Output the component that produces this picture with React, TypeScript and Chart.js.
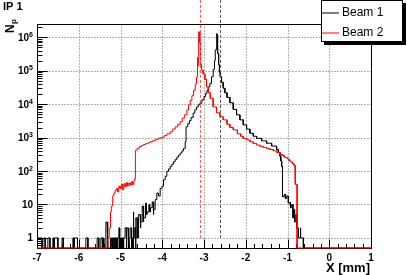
import { useEffect, useRef } from 'react';
import { Chart, registerables } from 'chart.js';

Chart.register(...registerables);

const X_MIN = -7;
const X_MAX = 1;
const Y_MIN = 0.5;
const Y_MAX = 2.5e6;

const xTickValues = [-7, -6, -5, -4, -3, -2, -1, 0, 1];
const xTickLabels = ['-7', '-6', '-5', '-4', '-3', '-2', '-1', '0', '1'];
const yTickValues = [1, 10, 100, 1000, 1e4, 1e5, 1e6];
// label base and exponent ('' = no exponent)
const yTickBases = ['1', '10', '10', '10', '10', '10', '10'];
const yTickExps = ['', '', '2', '3', '4', '5', '6'];

const seriesNames = ['Beam 1', 'Beam 2'];
const beamMeans = [-2.61, -3.09];

// Beam 1: bin left edges and counts (last edge closes the histogram)
const beam1Edges = [
  -7.0, -6.88, -6.83, -6.8, -6.74, -6.69, -6.62, -6.6, -6.58, -6.55, -6.5, -6.4, -6.37, -6.14, -6.12, -6.1, -6.07, -6.03, -6.0,
  -5.83, -5.78, -5.56, -5.52, -5.47, -5.44, -5.42, -5.4, -5.35, -5.32, -5.3,
  -5.25, -5.23, -5.22, -5.2, -5.19, -5.16, -5.15, -5.13, -5.12, -5.1, -5.09, -5.07, -5.06, -5.04, -5.02, -5.01, -4.99,
  -4.98, -4.96, -4.95, -4.93, -4.92, -4.89, -4.86, -4.85, -4.82, -4.8, -4.79, -4.77, -4.74, -4.73, -4.71, -4.7, -4.68,
  -4.67, -4.64, -4.63, -4.6, -4.58, -4.56, -4.53, -4.51, -4.48, -4.46, -4.44, -4.4, -4.38, -4.36, -4.32, -4.3, -4.28,
  -4.24, -4.22, -4.2, -4.17, -4.13, -4.09, -4.05, -4.01, -3.97, -3.93, -3.89, -3.85, -3.81, -3.77, -3.73, -3.69, -3.65,
  -3.61, -3.57, -3.53, -3.49, -3.45, -3.43, -3.39, -3.35, -3.31, -3.26, -3.22, -3.18, -3.14, -3.1, -3.05, -3.0, -2.96,
  -2.93, -2.89, -2.86, -2.82, -2.78, -2.75, -2.73, -2.71, -2.69, -2.68, -2.67, -2.65, -2.63, -2.61, -2.58, -2.54, -2.5,
  -2.45, -2.38, -2.3, -2.22, -2.14, -2.06, -1.98, -1.9, -1.82, -1.74, -1.62, -1.5, -1.38, -1.26, -1.22, -1.18, -1.16,
  -1.14, -1.12, -1.08, -1.05, -1.02, -0.98, -0.94, -0.92, -0.9, -0.87, -0.85, -0.83, -0.8, -0.78, -0.74, -0.7, -0.68,
  -0.62, 1.0,
];
const beam1Values = [
  1, 0, 1, 0, 1, 0, 1, 0, 1, 1, 0, 1, 0, 1, 0, 1, 1, 0, 0,
  1, 0, 1, 0, 1, 0, 1, 0, 3, 1, 0,
  1, 0, 1, 0, 1, 0, 1, 0, 1, 0, 1, 0, 1, 2, 0, 1, 0,
  1, 0, 1, 0, 1, 2, 0, 2, 1, 0, 1, 2, 0, 1, 0, 6, 1,
  2, 0, 4, 1, 2, 5, 2, 3, 9, 3, 4, 11, 5, 6, 10, 6, 8,
  12, 5, 7, 14, 22, 18, 30, 35, 55, 70, 97, 115, 138, 160, 190, 220, 260,
  300, 345, 400, 480, 760, 2100, 2600, 3200, 4000, 5400, 6800, 8200, 9500, 10700, 13500, 17000, 21000,
  26000, 33000, 42000, 66000, 110000, 200000, 420000, 1300000, 1200000, 800000, 330000, 150000, 90000, 66000, 45000, 30000, 22000,
  16000, 11000, 7000, 4800, 3400, 2400, 1800, 1350, 1100, 950, 800, 680, 560, 440, 360, 275, 200,
  138, 17, 20, 15, 18, 11, 12, 8, 10, 4, 7, 3, 5, 2, 1, 2, 1,
  0,
];

// Beam 2: bin left edges and counts
const beam2Edges = [
  -7.0, -5.3, -5.27, -5.24, -5.22, -5.2, -5.18, -5.16, -5.13, -5.1, -5.07, -5.04, -5.01, -4.98, -4.95, -4.92, -4.89,
  -4.86, -4.83, -4.8, -4.77, -4.74, -4.71, -4.68, -4.66, -4.65, -4.64, -4.6, -4.55, -4.5, -4.45, -4.4, -4.35, -4.29,
  -4.22, -4.15, -4.08, -4.01, -3.95, -3.89, -3.81, -3.75, -3.69, -3.63, -3.57, -3.52, -3.47, -3.41, -3.37, -3.33,
  -3.29, -3.25, -3.21, -3.18, -3.16, -3.15, -3.14, -3.13, -3.12, -3.1, -3.09, -3.08, -3.06, -3.02, -2.98, -2.94,
  -2.9, -2.85, -2.78, -2.7, -2.62, -2.54, -2.45, -2.38, -2.3, -2.2, -2.12, -2.06, -1.98, -1.9, -1.82, -1.74, -1.66,
  -1.58, -1.5, -1.42, -1.34, -1.26, -1.18, -1.12, -1.08, -1.04, -1.0, -0.96, -0.92, -0.88, -0.85, -0.82, -0.81,
  -0.77, 1.0,
];
const beam2Values = [
  0, 1, 2, 6, 9, 14, 18, 22, 26, 30, 24, 35, 30, 40, 28, 42, 34,
  45, 36, 44, 38, 48, 40, 52, 60, 150, 420, 480, 540, 580, 620, 660, 700, 760,
  830, 900, 980, 1030, 1150, 1300, 1500, 1800, 2100, 2500, 3000, 3800, 4800, 6700, 9500, 13000,
  18000, 26000, 40000, 65000, 250000, 140000, 400000, 900000, 1450000, 700000, 250000, 150000, 105000, 80000, 55000, 33000,
  22000, 15000, 8300, 5500, 4200, 3400, 2500, 2000, 1700, 1300, 1100, 950, 850, 750, 670, 600, 550,
  510, 470, 440, 400, 360, 310, 290, 260, 250, 230, 200, 185, 170, 150, 138, 40,
  0,
];

const FONT = "'Liberation Sans', Arial, Helvetica, sans-serif";
const COLORS = ['#000000', '#ff0000'];
const MEAN_COLORS = ['#555555', '#ff5a5a'];

function outline(edges: number[], values: number[]) {
  const pts: { x: number; y: number }[] = [];
  for (let i = 0; i < values.length; i++) {
    const v = values[i] > 0 ? values[i] : Y_MIN;
    pts.push({ x: edges[i], y: v }, { x: edges[i + 1], y: v });
  }
  return pts;
}

const decorPlugin = {
  id: 'decor',
  beforeDatasetsDraw(chart: any) {
    const { ctx, chartArea: a, scales } = chart;
    const xs = scales.x;
    const ys = scales.y;
    const L = Math.round(a.left) + 0.5;
    const R = Math.round(a.right) + 0.5;
    const T = Math.round(a.top) + 0.5;
    const B = Math.round(a.bottom) + 0.5;
    ctx.save();
    ctx.lineWidth = 1;
    // grid
    ctx.strokeStyle = '#666';
    ctx.setLineDash([1, 2]);
    for (const v of xTickValues) {
      if (v === X_MIN || v === X_MAX) continue;
      const px = Math.round(xs.getPixelForValue(v)) + 0.5;
      ctx.beginPath(); ctx.moveTo(px, T); ctx.lineTo(px, B); ctx.stroke();
    }
    for (const v of yTickValues) {
      const py = Math.round(ys.getPixelForValue(v)) + 0.5;
      ctx.beginPath(); ctx.moveTo(L, py); ctx.lineTo(R, py); ctx.stroke();
    }
    ctx.setLineDash([]);
    // frame
    ctx.strokeStyle = '#000';
    ctx.strokeRect(L, T, R - L, B - T);
    // x ticks
    for (let i = 0; i <= 40; i++) {
      const v = X_MIN + i * 0.2;
      const px = Math.round(xs.getPixelForValue(v)) + 0.5;
      const len = i % 5 === 0 ? 9 : 4.5;
      ctx.beginPath(); ctx.moveTo(px, B); ctx.lineTo(px, B - len); ctx.stroke();
    }
    // y ticks
    for (let d = -1; d <= 6; d++) {
      for (let k = 1; k <= 9; k++) {
        const v = k * Math.pow(10, d);
        if (v < Y_MIN || v > Y_MAX) continue;
        const py = Math.round(ys.getPixelForValue(v)) + 0.5;
        const len = k === 1 ? 10 : 5;
        ctx.beginPath(); ctx.moveTo(L, py); ctx.lineTo(L + len, py); ctx.stroke();
      }
    }
    // y tick labels with superscript exponents
    ctx.fillStyle = '#000';
    ctx.textBaseline = 'alphabetic';
    ctx.textAlign = 'left';
    const rightEdge = a.left - 4;
    yTickValues.forEach((v, i) => {
      const py = ys.getPixelForValue(v);
      const base = yTickBases[i];
      const exp = yTickExps[i];
      ctx.font = `bold 10px ${FONT}`;
      const wb = ctx.measureText(base).width;
      ctx.font = `bold 7px ${FONT}`;
      const we = exp ? ctx.measureText(exp).width : 0;
      const x0 = rightEdge - wb - we;
      ctx.font = `bold 10px ${FONT}`;
      ctx.fillText(base, x0, py + 3.5);
      if (exp) {
        ctx.font = `bold 7px ${FONT}`;
        ctx.fillText(exp, x0 + wb, py - 0.5);
      }
    });
    ctx.restore();
  },
  afterDraw(chart: any) {
    const { ctx, scales } = chart;
    const xs = scales.x;
    const ys = scales.y;
    ctx.save();
    // mean lines
    ctx.lineWidth = 1;
    ctx.setLineDash([3, 2]);
    beamMeans.forEach((m, i) => {
      const px = Math.round(xs.getPixelForValue(m)) + 0.5;
      const yb = ys.getPixelForValue(1);
      ctx.strokeStyle = MEAN_COLORS[i];
      ctx.beginPath(); ctx.moveTo(px, yb); ctx.lineTo(px, 0); ctx.stroke();
    });
    ctx.setLineDash([]);

    // title
    ctx.fillStyle = '#000';
    ctx.font = `bold 11px ${FONT}`;
    ctx.textAlign = 'left';
    ctx.textBaseline = 'alphabetic';
    ctx.fillText('IP 1', 3, 10);

    // y title (rotated)
    ctx.save();
    ctx.translate(14, 33);
    ctx.rotate(-Math.PI / 2);
    ctx.font = `bold 12px ${FONT}`;
    ctx.fillText('N', 0, 0);
    ctx.font = `bold 8px ${FONT}`;
    ctx.fillText('p', 9, 2);
    ctx.restore();

    // x title
    ctx.font = `bold 13px ${FONT}`;
    ctx.textAlign = 'right';
    ctx.fillText('X [mm]', 370, 272);

    // legend
    const lx = 321, ly = 0, lw = 82, lh = 42;
    ctx.fillStyle = '#000';
    ctx.fillRect(lx + 3, ly + 3, lw, lh);
    ctx.fillStyle = '#fff';
    ctx.fillRect(lx, ly, lw, lh);
    ctx.strokeStyle = '#000';
    ctx.strokeRect(lx + 0.5, ly + 0.5, lw - 1, lh - 1);
    ctx.font = `12px ${FONT}`;
    ctx.textAlign = 'left';
    ctx.textBaseline = 'middle';
    seriesNames.forEach((name, i) => {
      const yy = 13 + i * 20;
      ctx.strokeStyle = COLORS[i];
      ctx.beginPath(); ctx.moveTo(322, yy); ctx.lineTo(339, yy); ctx.stroke();
      ctx.fillStyle = '#000';
      ctx.fillText(name, 342, yy);
    });
    ctx.restore();
  },
};

export default function App() {
  const ref = useRef<HTMLCanvasElement | null>(null);
  useEffect(() => {
    document.body.style.margin = '0';
    const canvas = ref.current;
    if (!canvas) return;
    const chart = new Chart(canvas, {
      type: 'line',
      data: {
        datasets: [
          {
            label: seriesNames[0],
            data: outline(beam1Edges, beam1Values),
            borderColor: COLORS[0],
            borderWidth: 1,
            pointRadius: 0,
            fill: false,
            order: 2,
            clip: 3,
          },
          {
            label: seriesNames[1],
            data: outline(beam2Edges, beam2Values),
            borderColor: COLORS[1],
            borderWidth: 1,
            pointRadius: 0,
            fill: false,
            order: 1,
            clip: 3,
          },
        ],
      },
      options: {
        responsive: false,
        maintainAspectRatio: false,
        animation: false,
        parsing: false as any,
        normalized: true,
        layout: { padding: { top: 24, right: 36, left: 0, bottom: 0 } },
        plugins: { legend: { display: false }, tooltip: { enabled: false }, title: { display: false } },
        scales: {
          x: {
            type: 'linear',
            min: X_MIN,
            max: X_MAX,
            grid: { display: false, drawTicks: false },
            border: { display: false },
            afterBuildTicks: (s: any) => {
              s.ticks = xTickValues.map((v) => ({ value: v }));
            },
            afterFit: (s: any) => {
              s.height = 27;
            },
            ticks: {
              autoSkip: false,
              maxRotation: 0,
              padding: 4,
              color: '#000',
              font: { family: FONT, size: 10, weight: 'bold' },
              callback: (v: any) => xTickLabels[xTickValues.indexOf(Number(v))] ?? '',
            },
          },
          y: {
            type: 'logarithmic',
            min: Y_MIN,
            max: Y_MAX,
            grid: { display: false, drawTicks: false },
            border: { display: false },
            afterBuildTicks: (s: any) => {
              s.ticks = yTickValues.map((v) => ({ value: v }));
            },
            afterFit: (s: any) => {
              s.width = 37;
            },
            ticks: { display: false },
          },
        },
      },
      plugins: [decorPlugin],
    } as any);
    return () => chart.destroy();
  }, []);
  return <canvas ref={ref} width={407} height={275} style={{ display: 'block' }} />;
}
